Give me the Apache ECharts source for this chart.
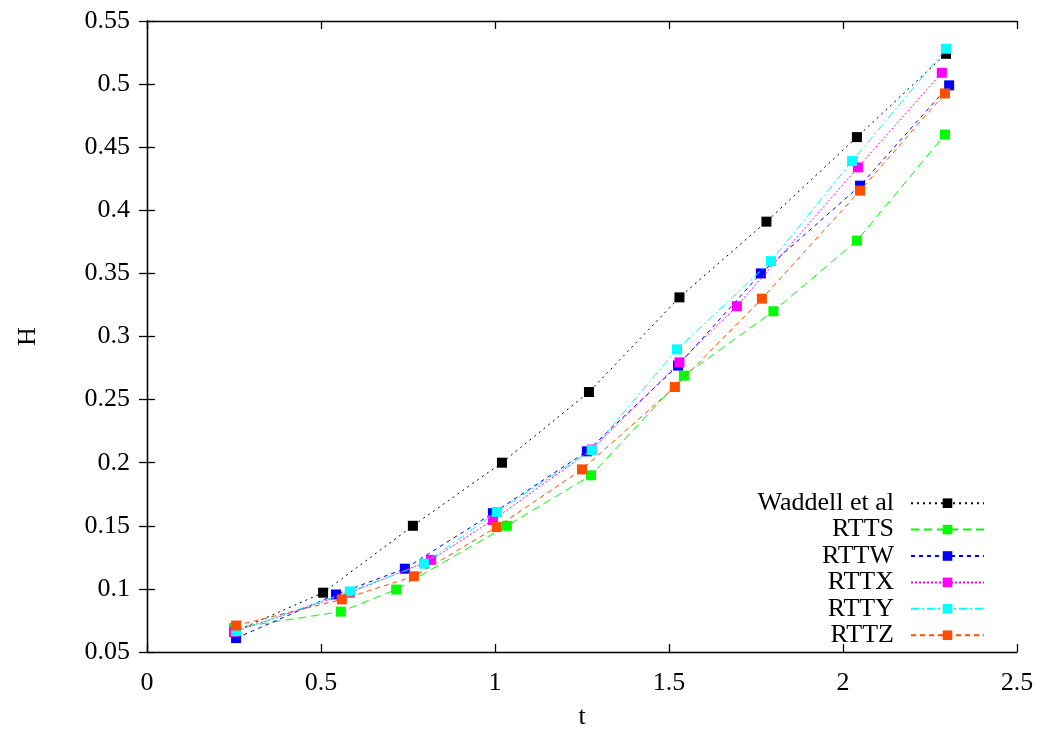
<!DOCTYPE html>
<html>
<head>
<meta charset="utf-8">
<script src="https://cdn.jsdelivr.net/npm/echarts@6/dist/echarts.min.js"></script>
<style>
  html, body { margin: 0; padding: 0; background: #fff; }
  #chart { width: 1041px; height: 735px; }
</style>
</head>
<body>
<div id="chart"></div>
<script>
// Growth of H against t for the Waddell et al reference and five RTT cases
const waddellT = [0.25, 0.506, 0.764, 1.02, 1.27, 1.53, 1.78, 2.04, 2.296];
const waddellH = [0.066, 0.097, 0.150, 0.200, 0.256, 0.331, 0.391, 0.458, 0.524];

const rttsT = [0.25, 0.557, 0.716, 1.034, 1.276, 1.543, 1.80, 2.04, 2.293];
const rttsH = [0.069, 0.082, 0.0995, 0.150, 0.190, 0.269, 0.320, 0.376, 0.460];

const rttwT = [0.256, 0.543, 0.741, 0.994, 1.264, 1.526, 1.764, 2.049, 2.305];
const rttwH = [0.061, 0.0956, 0.116, 0.160, 0.209, 0.277, 0.350, 0.4195, 0.499];

const rttxT = [0.25, 0.583, 0.816, 0.994, 1.278, 1.53, 1.695, 2.043, 2.284];
const rttxH = [0.066, 0.097, 0.123, 0.1546, 0.2104, 0.2795, 0.324, 0.434, 0.509];

const rttyT = [0.256, 0.583, 0.796, 1.005, 1.278, 1.523, 1.793, 2.026, 2.296];
const rttyH = [0.0665, 0.098, 0.120, 0.161, 0.210, 0.2898, 0.3597, 0.439, 0.528];

const rttzT = [0.256, 0.560, 0.767, 1.005, 1.25, 1.517, 1.767, 2.049, 2.293];
const rttzH = [0.071, 0.0917, 0.110, 0.149, 0.1947, 0.260, 0.330, 0.4156, 0.4926];

const seriesNames = ['Waddell et al', 'RTTS', 'RTTW', 'RTTX', 'RTTY', 'RTTZ'];
const seriesT = [waddellT, rttsT, rttwT, rttxT, rttyT, rttzT];
const seriesH = [waddellH, rttsH, rttwH, rttxH, rttyH, rttzH];

const xTicks = [0, 0.5, 1, 1.5, 2, 2.5];
const yTicks = [0.05, 0.1, 0.15, 0.2, 0.25, 0.3, 0.35, 0.4, 0.45, 0.5, 0.55];

const colors = ['#000000', '#00ff00', '#0000ff', '#ff00ff', '#00ffff', '#ff4d00'];
const dashes = [[2, 4], [8, 5], [4, 4], [2, 2], [8, 3, 2, 3], [5, 4]];

const FONT = 'Liberation Serif';

const series = seriesNames.map((name, i) => ({
  name: name,
  type: 'line',
  xAxisIndex: 0,
  yAxisIndex: 0,
  data: seriesT[i].map((t, k) => [t, seriesH[i][k]]),
  symbol: 'rect',
  symbolSize: 10,
  showAllSymbol: true,
  color: colors[i],
  itemStyle: { color: colors[i] },
  lineStyle: { color: colors[i], width: 1, type: dashes[i] },
  animation: false,
  z: 2 + i
}));

const fmt2 = v => String(+v.toFixed(2));

const baseAxisLine = { show: true, lineStyle: { color: '#000', width: 1.3 } };
const baseTick = { show: true, inside: true, length: 8, lineStyle: { color: '#000', width: 1.3 } };

const chart = echarts.init(document.getElementById('chart'), null, { renderer: 'canvas' });
chart.setOption({
  backgroundColor: '#ffffff',
  animation: false,
  grid: { left: 147, right: 24, top: 21, bottom: 78, containLabel: false },
  legend: {
    data: seriesNames,
    orient: 'vertical',
    align: 'right',
    right: 51,
    top: 485,
    itemWidth: 73,
    itemHeight: 12,
    itemGap: 0,
    selectedMode: false,
    textStyle: {
      fontFamily: FONT,
      fontSize: 26,
      color: '#000',
      lineHeight: 26.4,
      padding: [0, 12, 0, 0]
    }
  },
  xAxis: [
    {
      type: 'value', position: 'bottom', min: xTicks[0], max: xTicks[xTicks.length - 1], interval: 0.5,
      name: 't', nameLocation: 'middle', nameGap: 52,
      nameTextStyle: { fontFamily: FONT, fontSize: 26, color: '#000' },
      axisLine: baseAxisLine, axisTick: baseTick, splitLine: { show: false },
      axisLabel: { fontFamily: FONT, fontSize: 26, color: '#000', margin: 18, formatter: fmt2 }
    },
    {
      type: 'value', position: 'top', min: xTicks[0], max: xTicks[xTicks.length - 1], interval: 0.5,
      axisLine: baseAxisLine, axisTick: baseTick, splitLine: { show: false },
      axisLabel: { show: false }
    }
  ],
  yAxis: [
    {
      type: 'value', position: 'left', min: yTicks[0], max: yTicks[yTicks.length - 1], interval: 0.05,
      name: 'H', nameLocation: 'middle', nameGap: 106, nameRotate: 90,
      nameTextStyle: { fontFamily: FONT, fontSize: 26, color: '#000' },
      axisLine: baseAxisLine, axisTick: baseTick, splitLine: { show: false },
      axisLabel: { fontFamily: FONT, fontSize: 26, color: '#000', margin: 17, formatter: fmt2 }
    },
    {
      type: 'value', position: 'right', min: yTicks[0], max: yTicks[yTicks.length - 1], interval: 0.05,
      axisLine: baseAxisLine, axisTick: baseTick, splitLine: { show: false },
      axisLabel: { show: false }
    }
  ],
  series: series
});
</script>
</body>
</html>
